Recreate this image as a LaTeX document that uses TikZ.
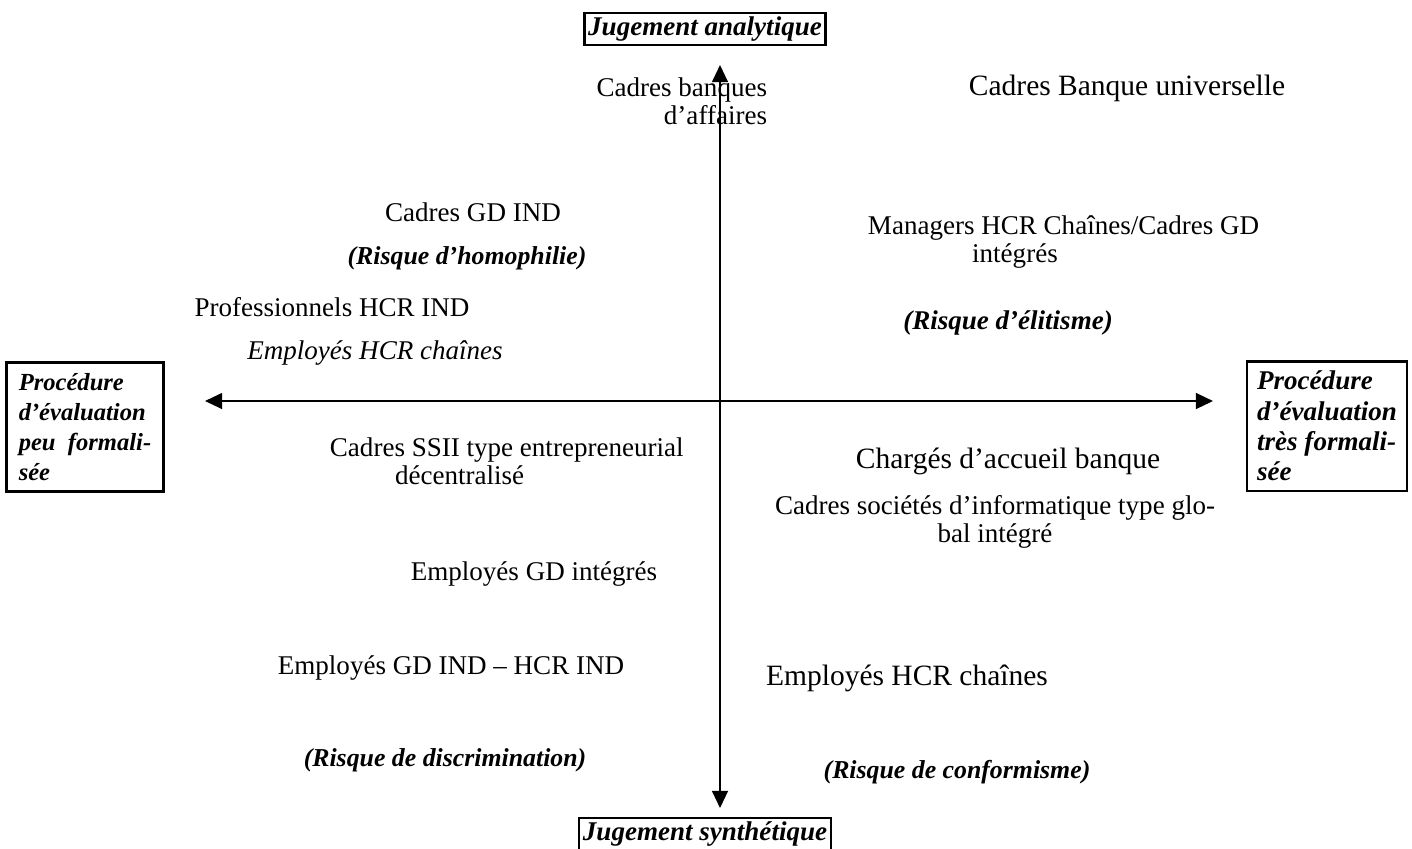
\documentclass[tikz,border=0pt]{standalone}
\usepackage{fontspec}
\setmainfont{Liberation Serif}
\usepackage{tikz}
\usetikzlibrary{arrows.meta, positioning}

\tikzset{
    txt/.style={font=\fontsize{11}{11.5}\selectfont, inner sep=1pt},
    grandtxt/.style={font=\fontsize{12}{11.5}\selectfont, inner sep=1pt},
    risque/.style={font=\fontsize{10.5}{12}\selectfont\bfseries\itshape, inner sep=1pt},
    axebox/.style={draw, line width=1pt, font=\fontsize{11}{12.3}\selectfont\bfseries\itshape},
    axe/.style={line width=0.7pt, {Triangle[length=7pt,width=6.5pt]}-{Triangle[length=7pt,width=6.5pt]}}
}

\begin{document}
\begin{tikzpicture}[x=0.0143cm, y=-0.0143cm]
    \useasboundingbox (0,0) rectangle (1412,848);
    % Pôles des axes
    \node[axebox, inner sep=1.5pt] (jana) at (705,29) {Jugement analytique};
    \node[axebox, inner sep=1.5pt] (jsyn) at (705,834) {Jugement synthétique};
    \node[axebox, font=\fontsize{10}{12.3}\selectfont\bfseries\itshape, align=left, inner xsep=5pt, inner ysep=4pt, minimum width=156*0.0143cm, minimum height=129*0.0143cm] (pfaible) at (85,427) {Procédure\\d’évaluation\\peu\ \ formali-\\sée};
    \node[axebox, align=left, inner xsep=4pt, inner ysep=4pt, minimum width=160*0.0143cm, minimum height=128*0.0143cm] (pforte) at (1327,426) {Procédure\\d’évaluation\\très formali-\\sée};

    % Axes
    \coordinate (haut) at (720,65);
    \coordinate (bas) at (720,808);
    \coordinate (gauche) at (205,401);
    \coordinate (droite) at (1213,401);
    \draw[axe] (bas) -- (haut);
    \draw[axe] (gauche) -- (droite);

    % Quadrant haut gauche
    \node[txt, align=right, anchor=east] (bqaff) at (770,101) {Cadres banques\\d’affaires};
    \node[txt] (gdind) at (473,212) {Cadres GD IND};
    \node[risque] (homoph) at (467,258) {(Risque d’homophilie)};
    \node[txt] (profhcr) at (332,307) {Professionnels HCR IND};
    \node[txt, font=\fontsize{11}{11.5}\selectfont\itshape] (emphcr) at (375,353) {Employés HCR chaînes};

    % Quadrant haut droit
    \node[grandtxt] (bquniv) at (1127,88) {Cadres Banque universelle};
    \node[txt, align=left, anchor=west] (manag) at (865,242) {Managers HCR Chaînes/Cadres GD\\\hspace*{1.49cm}intégrés};
    \node[risque, font=\fontsize{11}{12}\selectfont\bfseries\itshape] (elit) at (1008,323) {(Risque d’élitisme)};

    % Quadrant bas gauche
    \node[txt, align=left, anchor=west] (ssii) at (327,461) {Cadres SSII type entrepreneurial\\\hspace*{0.93cm}décentralisé};
    \node[txt] (empgdint) at (534,574) {Employés GD intégrés};
    \node[txt] (empgdind) at (451,668) {Employés GD IND – HCR IND};
    \node[risque] (discr) at (445,760) {(Risque de discrimination)};

    % Quadrant bas droit
    \node[grandtxt] (accueil) at (1008,461) {Chargés d’accueil banque};
    \node[txt, align=center] (socinf) at (995,522) {Cadres sociétés d’informatique type glo-\\bal intégré};
    \node[grandtxt] (emphcrch) at (907,678) {Employés HCR chaînes};
    \node[risque] (conform) at (957,772) {(Risque de conformisme)};
\end{tikzpicture}
\end{document}
